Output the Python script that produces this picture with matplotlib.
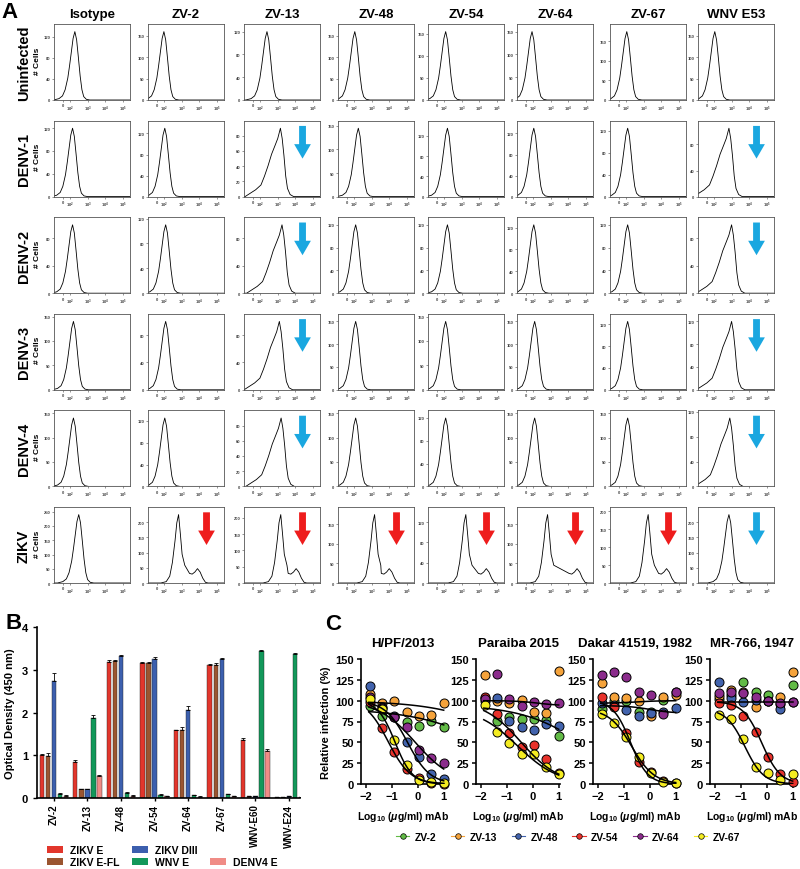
import numpy as np
import matplotlib
matplotlib.use('Agg')
import matplotlib.pyplot as plt
from matplotlib.patches import FancyArrow, Patch
from matplotlib.lines import Line2D

plt.rcParams.update({
    'font.family': ['Liberation Sans', 'DejaVu Sans'],
    'font.weight': 'bold',
    'axes.titleweight': 'bold',
    'axes.labelweight': 'bold',
    'mathtext.fontset': 'custom',
    'mathtext.rm': 'Liberation Sans:bold',
    'mathtext.it': 'Liberation Sans:bold:italic',
    'mathtext.bf': 'Liberation Sans:bold',
})

# ---------------- Panel A: flow cytometry histograms ----------------
ANTIBODIES = ['Isotype', 'ZV-2', 'ZV-13', 'ZV-48', 'ZV-54', 'ZV-64', 'ZV-67', 'WNV E53']
INFECTIONS = ['Uninfected', 'DENV-1', 'DENV-2', 'DENV-3', 'DENV-4', 'ZIKV']

# S = single peak, B = broad peak with left tail, M = bimodal
HIST_SHAPE = [
    'SSSSSSSS',
    'SSBSSSSB',
    'SSBSSSSB',
    'SSBSSSSB',
    'SSBSSSSB',
    'SMMMMMMS',
]
# main peak position (log10 fluorescence)
HIST_PEAK = [
    [2.28, 2.00, 2.40, 2.05, 2.10, 1.95, 2.05, 2.05],
    [2.15, 2.05, 3.16, 2.25, 2.20, 2.05, 2.10, 2.85],
    [2.15, 2.10, 3.25, 2.10, 2.20, 2.05, 2.10, 3.00],
    [2.20, 2.10, 3.10, 2.10, 2.10, 2.10, 2.10, 3.00],
    [2.20, 2.05, 3.20, 2.10, 2.10, 2.10, 2.10, 2.90],
    [2.50, 2.83, 3.18, 3.17, 3.24, 2.83, 3.26, 2.85],
]
# second (bound) peak in ZIKV row
HIST_PEAK2 = [None, 3.90, 4.05, 4.00, 4.40, 4.50, 4.30, None]
# peak cell counts
HIST_COUNT = [
    [130, 160, 120, 160, 155, 150, 175, 160],
    [120, 130, 90, 145, 135, 130, 125, 105],
    [100, 110, 100, 120, 120, 125, 120, 100],
    [140, 100, 100, 150, 140, 150, 125, 120],
    [140, 125, 90, 140, 120, 140, 140, 110],
    [240, 225, 210, 175, 135, 175, 190, 225],
]
# c = cyan arrow, r = red arrow
HIST_ARROW = [
    '........',
    '..c....c',
    '..c....c',
    '..c....c',
    '..c....c',
    '.rrrrrrc',
]

# template shapes (offset in decades, relative height)
SINGLE_DX = [-1.2, -0.9, -0.7, -0.55, -0.4, -0.3, -0.2, -0.1, 0.0, 0.1, 0.2, 0.3, 0.4, 0.5, 0.65, 0.85]
SINGLE_Y = [0.0, 0.02, 0.06, 0.15, 0.32, 0.5, 0.7, 0.9, 1.0, 0.88, 0.62, 0.35, 0.15, 0.05, 0.01, 0.0]
BROAD_DX = [-2.0, -1.7, -1.4, -1.1, -0.9, -0.7, -0.5, -0.3, -0.15, 0.0, 0.1, 0.2, 0.3, 0.4, 0.55, 0.75]
BROAD_Y = [0.0, 0.05, 0.1, 0.17, 0.3, 0.45, 0.62, 0.75, 0.85, 1.0, 0.85, 0.6, 0.3, 0.12, 0.03, 0.0]
MAIN_DX = [-1.0, -0.7, -0.5, -0.35, -0.2, -0.1, 0.0, 0.1, 0.2, 0.35]
MAIN_Y = [0.0, 0.02, 0.1, 0.3, 0.62, 0.88, 1.0, 0.72, 0.42, 0.26]
BUMP_DX = [-0.45, -0.3, -0.15, 0.0, 0.15, 0.3, 0.45, 0.6]
BUMP_Y = [0.14, 0.13, 0.16, 0.21, 0.16, 0.07, 0.01, 0.0]

# ---------------- Panel B: ELISA ----------------
B_GROUPS = ['ZV-2', 'ZV-13', 'ZV-48', 'ZV-54', 'ZV-64', 'ZV-67', 'WNV-E60', 'WNV-E24']
B_ANTIGENS = ['ZIKV E', 'ZIKV E-FL', 'ZIKV DIII', 'WNV E', 'DENV4 E']
B_COLORS = ['#e2362c', '#9b5530', '#3c5fae', '#12985a', '#f08c86']
OD_ZIKV_E = [1.00, 0.84, 3.19, 3.15, 1.58, 3.12, 1.36, 0.02]
OD_ZIKV_EFL = [0.98, 0.20, 3.20, 3.16, 1.60, 3.12, 0.04, 0.02]
OD_ZIKV_DIII = [2.73, 0.21, 3.32, 3.26, 2.05, 3.24, 0.04, 0.04]
OD_WNV_E = [0.10, 1.87, 0.12, 0.08, 0.07, 0.09, 3.45, 3.37]
OD_DENV4_E = [0.05, 0.52, 0.05, 0.04, 0.03, 0.04, 1.10, 0.03]
ERR_ZIKV_E = [0.04, 0.06, 0.03, 0.03, 0.02, 0.02, 0.05, 0.0]
ERR_ZIKV_EFL = [0.08, 0.01, 0.02, 0.01, 0.07, 0.03, 0.0, 0.0]
ERR_ZIKV_DIII = [0.20, 0.01, 0.03, 0.03, 0.10, 0.04, 0.0, 0.0]
ERR_WNV_E = [0.01, 0.06, 0.02, 0.01, 0.01, 0.01, 0.02, 0.02]
ERR_DENV4_E = [0.01, 0.01, 0.01, 0.01, 0.01, 0.01, 0.05, 0.0]

# ---------------- Panel C: neutralization ----------------
C_STRAINS = ['H/PF/2013', 'Paraiba 2015', 'Dakar 41519, 1982', 'MR-766, 1947']
C_MABS = ['ZV-2', 'ZV-13', 'ZV-48', 'ZV-54', 'ZV-64', 'ZV-67']
C_COLORS = ['#62bb46', '#f5a33b', '#4263ad', '#e8322b', '#8b2c8c', '#f4ec21']
LOG_DOSE = [-1.86, -1.39, -0.91, -0.43, 0.05, 0.52, 1.0]

HPF_2013 = [
    [94, 82, 81, 74, 70, 76, 69],
    [108, 97, 100, 87, 82, 83, 97],
    [118, 92, 82, 50, 33, 12, 6],
    [98, 67, 38, 18, 7, 1, 0],
    [105, 91, 80, 68, 41, 31, 25],
    [102, 90, 53, 23, 5, 2, 1],
]
PARAIBA_2015 = [
    [100, 76, 80, 78, 78, 77, 58],
    [131, 100, 97, 101, 87, 85, 136],
    [103, 103, 76, 68, 65, 72, 70],
    [104, 84, 61, 45, 47, 30, 13],
    [102, 132, 102, 94, 98, 96, 97],
    [95, 63, 49, 36, 36, 20, 12],
]
DAKAR_1982 = [
    [90, 100, 100, 86, 87, 101, 111],
    [121, 105, 103, 100, 82, 105, 107],
    [97, 95, 89, 82, 85, 87, 91],
    [104, 93, 61, 27, 14, 4, 1],
    [131, 134, 128, 110, 107, 84, 110],
    [84, 73, 57, 33, 13, 3, 1],
]
MR766_1947 = [
    [102, 107, 122, 111, 107, 96, 119],
    [106, 113, 110, 92, 100, 105, 134],
    [123, 103, 99, 101, 100, 90, 99],
    [97, 95, 82, 62, 33, 12, 2],
    [109, 111, 109, 105, 100, 97, 99],
    [83, 78, 54, 20, 13, 5, 12],
]
# fitted curves: (top, bottom, logIC50, hill)
HPF_FITS = {'ZV-2': (90, 0, 2.9, 0.3), 'ZV-13': (99.7, 0, 4.0, 0.3), 'ZV-48': (100, 0, -0.4, 1.0),
            'ZV-54': (102, 0, -1.15, 1.0), 'ZV-64': (100, 0, -0.1, 0.6), 'ZV-67': (100, 0, -0.88, 1.3)}
PARAIBA_FITS = {'ZV-2': (95, 0, 2.0, 0.35), 'ZV-54': (100, 0, -0.45, 0.6),
                'ZV-64': (100, 94, 0.2, 1.0), 'ZV-67': (92, 0, -0.6, 0.55)}
DAKAR_FITS = {'ZV-13': (97, 100, -0.5, 1.0), 'ZV-48': (94, 85, 0.0, 1.0),
              'ZV-54': (100, 0, -0.75, 1.3), 'ZV-67': (90, 0, -0.7, 1.0)}
MR766_FITS = {'ZV-48': (99, 99, 0.0, 1.0), 'ZV-54': (99, 0, -0.2, 1.2), 'ZV-67': (90, 0, -0.85, 1.2)}

W, H = 800, 870
XMIN, XMAX = 1.1, 5.4


def add_px_axes(fig, left, top, width, height):
    return fig.add_axes([left / W, 1 - (top + height) / H, width / W, height / H])


def histogram_curve(kind, p1, p2):
    if kind == 'S':
        x = p1 + np.array(SINGLE_DX)
        h = np.array(SINGLE_Y)
    elif kind == 'B':
        x = p1 + np.array(BROAD_DX)
        h = np.array(BROAD_Y)
    else:
        x = np.concatenate([p1 + np.array(MAIN_DX), p2 + np.array(BUMP_DX)])
        h = np.concatenate([MAIN_Y, BUMP_Y])
    x = np.concatenate([[min(x[0], XMIN) - 0.1], x, [XMAX + 0.1]])
    h = np.concatenate([[0], h, [0]])
    return x, h


def four_pl(x, top, bottom, log_ic50, hill):
    return bottom + (top - bottom) / (1 + 10 ** ((x - log_ic50) * hill))


def bold_ticks(ax):
    for lab in ax.get_xticklabels() + ax.get_yticklabels():
        lab.set_fontweight('bold')


fig = plt.figure(figsize=(8, 8.7), dpi=100)

# ---- Panel A ----
A_LEFTS = [54, 148, 244, 338, 428, 517, 610, 698]
A_TOPS = [25, 121.6, 218.2, 314.8, 411.4, 508]
A_SIZE = 76

fig.text(10 / W, 1 - 12 / H, 'A', fontsize=16, ha='center', va='center')
for c, ab in enumerate(ANTIBODIES):
    fig.text((A_LEFTS[c] + A_SIZE / 2) / W, 1 - 15 / H, ab, fontsize=9.5, ha='center', va='center')

for r, inf in enumerate(INFECTIONS):
    top = A_TOPS[r]
    fig.text(24 / W, 1 - (top + 38) / H, inf, rotation=90, fontsize=10.5, ha='center', va='center')
    fig.text(37.5 / W, 1 - (top + 36) / H, '# Cells', rotation=90, fontsize=6, ha='center', va='center')
    for c in range(len(ANTIBODIES)):
        ax = add_px_axes(fig, A_LEFTS[c], top, A_SIZE, A_SIZE)
        count = HIST_COUNT[r][c]
        x, h = histogram_curve(HIST_SHAPE[r][c], HIST_PEAK[r][c], HIST_PEAK2[c])
        ax.plot(x, h * count, color='black', lw=0.6)
        ymax = count / 0.9
        ax.set_xlim(XMIN, XMAX)
        ax.set_ylim(0, ymax)
        step = 50 if ymax > 150 else (40 if ymax > 110 else 20)
        ax.set_yticks(np.arange(0, ymax, step))
        ax.set_xticks([1.62, 2, 3, 4, 5])
        ax.set_xticklabels(['0', '$10^2$', '$10^3$', '$10^4$', '$10^5$'])
        ax.tick_params(labelsize=3, length=1.5, width=0.4, pad=1, colors='#444444')
        for s in ax.spines.values():
            s.set_linewidth(0.6)
            s.set_color('#555555')
        code = HIST_ARROW[r][c]
        if code != '.':
            color = '#1aa7e0' if code == 'c' else '#ee1c1c'
            ax.add_patch(FancyArrow(0.77, 0.93, 0, -0.43, width=0.09, head_width=0.22,
                                    head_length=0.19, length_includes_head=True,
                                    transform=ax.transAxes, color=color, lw=0))

# ---- Panel B ----
fig.text(14 / W, 1 - 624 / H, 'B', fontsize=16, ha='center', va='center')
axb = add_px_axes(fig, 37, 628, 263, 171)
pos = np.arange(len(B_GROUPS))
b_values = [OD_ZIKV_E, OD_ZIKV_EFL, OD_ZIKV_DIII, OD_WNV_E, OD_DENV4_E]
b_errors = [ERR_ZIKV_E, ERR_ZIKV_EFL, ERR_ZIKV_DIII, ERR_WNV_E, ERR_DENV4_E]
for i, (vals, errs, color, label) in enumerate(zip(b_values, b_errors, B_COLORS, B_ANTIGENS)):
    axb.bar(pos + (i - 2) * 0.18, vals, width=0.13, color=color, edgecolor='#222222', lw=0.3,
            yerr=[np.zeros(len(errs)), errs],
            error_kw=dict(ecolor='black', elinewidth=0.6, capsize=1.2, capthick=0.6),
            label=label)
axb.set_xlim(-0.5, 7.33)
axb.set_ylim(0, 4)
axb.set_yticks([0, 1, 2, 3, 4])
axb.set_xticks(pos)
axb.set_xticklabels(B_GROUPS, rotation=90, fontsize=7)
axb.tick_params(axis='y', labelsize=8, length=3, width=1)
axb.tick_params(axis='x', length=2, width=1, pad=2)
bold_ticks(axb)
axb.set_ylabel('Optical Density (450 nm)', fontsize=8, labelpad=5)
for s in ['top', 'right']:
    axb.spines[s].set_visible(False)
for s in ['left', 'bottom']:
    axb.spines[s].set_linewidth(1.2)

handles = [Patch(facecolor=B_COLORS[0], label=B_ANTIGENS[0]),
           Patch(facecolor=B_COLORS[1], label=B_ANTIGENS[1]),
           Patch(facecolor=B_COLORS[2], label=B_ANTIGENS[2]),
           Patch(facecolor=B_COLORS[3], label=B_ANTIGENS[3]),
           Patch(facecolor='none', edgecolor='none', label=' '),
           Patch(facecolor=B_COLORS[4], label=B_ANTIGENS[4])]
fig.legend(handles=handles, loc='center', bbox_to_anchor=(162 / W, 1 - 857 / H), ncol=3,
           frameon=False, fontsize=7.5, handlelength=1.6, handleheight=0.75, handletextpad=0.6,
           columnspacing=1.2, labelspacing=0.2, borderpad=0)

# ---- Panel C ----
fig.text(333 / W, 1 - 625 / H, 'C', fontsize=16, ha='center', va='center')
C_LEFTS = [361, 476, 593, 710]
c_data = [HPF_2013, PARAIBA_2015, DAKAR_1982, MR766_1947]
c_fits = [HPF_FITS, PARAIBA_FITS, DAKAR_FITS, MR766_FITS]
xfit = np.linspace(-1.9, 1.0, 120)
for k, (strain, data, fits) in enumerate(zip(C_STRAINS, c_data, c_fits)):
    ax = add_px_axes(fig, C_LEFTS[k], 660, 84, 125)
    for mab, vals, color in zip(C_MABS, data, C_COLORS):
        ax.plot(LOG_DOSE, vals, 'o', color=color, markeredgecolor='black', markeredgewidth=0.7,
                markersize=6.5, clip_on=False, zorder=3)
    for mab, params in fits.items():
        ax.plot(xfit, four_pl(xfit, *params), color='black', lw=1.1, zorder=4)
    ax.set_xlim(-2.2, 1.05)
    ax.set_ylim(0, 150)
    ax.set_xticks([-2, -1, 0, 1])
    ax.set_yticks([0, 25, 50, 75, 100, 125, 150])
    ax.tick_params(labelsize=8, length=3, width=1.1, pad=2)
    bold_ticks(ax)
    for s in ['top', 'right']:
        ax.spines[s].set_visible(False)
    for s in ['left', 'bottom']:
        ax.spines[s].set_linewidth(1.2)
    ax.set_title(strain, fontsize=9.5, pad=9)
    ax.set_xlabel(r'Log$_{10}$ ($\mu$g/ml) mAb', fontsize=7.5, labelpad=6)
    if k == 0:
        ax.set_ylabel('Relative infection (%)', fontsize=8, labelpad=3)

c_handles = [Line2D([0], [0], color=col, marker='o', markeredgecolor='black', markeredgewidth=0.5,
                    markersize=4, lw=0.8, label=m) for m, col in zip(C_MABS, C_COLORS)]
fig.legend(handles=c_handles, loc='center', bbox_to_anchor=(568 / W, 1 - 838 / H), ncol=6,
           frameon=False, fontsize=7.5, handlelength=1.3, handletextpad=0.5, columnspacing=1.4,
           borderpad=0)

fig.savefig('out.png', dpi=100)
